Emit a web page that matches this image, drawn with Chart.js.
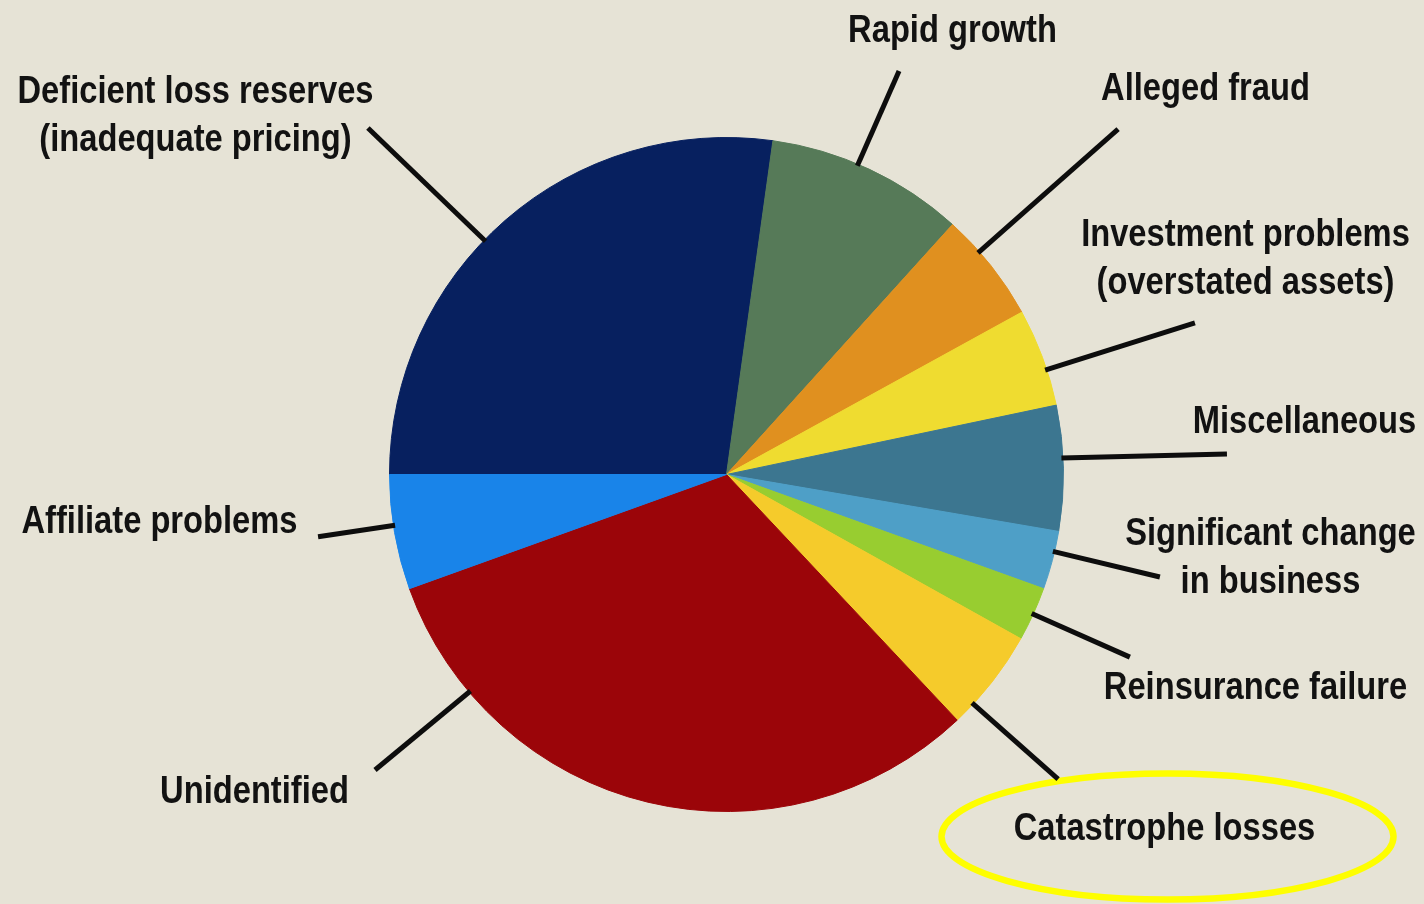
<!DOCTYPE html>
<html>
<head>
<meta charset="utf-8">
<title>Causes of insurer impairments</title>
<script src="https://cdn.jsdelivr.net/npm/chart.js@4.4.1/dist/chart.umd.min.js"></script>
<style>
  html, body { margin: 0; padding: 0; background: #e6e3d6; }
  #wrap { width: 1424px; height: 904px; }
</style>
</head>
<body>
<div id="wrap"><canvas id="pieChart" width="1424" height="904"></canvas></div>
<script>
// ─── DATA ────────────────────────────────────────────
const categories = [
  ['Deficient loss reserves', '(inadequate pricing)'],
  ['Rapid growth'],
  ['Alleged fraud'],
  ['Investment problems', '(overstated assets)'],
  ['Miscellaneous'],
  ['Significant change', 'in business'],
  ['Reinsurance failure'],
  ['Catastrophe losses'],
  ['Unidentified'],
  ['Affiliate problems']
];
const shares = [27.2, 9.5, 5.3, 4.7, 6.0, 2.8, 2.6, 4.9, 31.5, 5.5];
const sliceColors = [
  '#07205f', '#567a58', '#e0901f', '#efdc30', '#3c7690',
  '#4e9fc7', '#98cd30', '#f5cb2b', '#9b0509', '#1984e9'
];
const highlighted = 'Catastrophe losses';

// ─── CALLOUT LAYOUT ──────────────────────────────────
// at: where on the slice the leader starts (0..1 of its sweep)
// end: outer end of the leader, in radius units from the centre
// text: baseline centre of the first label line, px from the centre
const calloutLayout = [
  { at: 0.45, end: [-1.064, -1.028], text: [-531, -372] },
  { at: 0.44, end: [ 0.512, -1.197], text: [ 226, -433] },
  { at: 0.34, end: [ 1.162, -1.025], text: [ 479, -375] },
  { at: 0.63, end: [ 1.390, -0.450], text: [ 519, -229] },
  { at: 0.42, end: [ 1.485, -0.061], text: [ 578,  -42] },
  { at: 0.35, end: [ 1.286,  0.304], text: [ 544,   70] },
  { at: 0.50, end: [ 1.197,  0.542], text: [ 529,  224] },
  { at: 0.78, end: [ 0.984,  0.904], text: [ 438,  365] },
  { at: 0.82, end: [-1.043,  0.877], text: [-472,  328] },
  { at: 0.56, end: [-1.212,  0.185], text: [-567,   58] }
];

const LABEL_FONT = "bold 38px 'Liberation Sans', Arial, sans-serif";
const LABEL_SQUEEZE = 0.86;
const LINE_GAP = 48;

// ─── CALLOUT PLUGIN ──────────────────────────────────
const callouts = {
  id: 'callouts',
  afterDatasetsDraw(chart) {
    const { ctx } = chart;
    const arcs = chart.getDatasetMeta(0).data;
    const labels = chart.data.labels;

    ctx.save();
    arcs.forEach((arc, i) => {
      const lay = calloutLayout[i];
      const R = arc.outerRadius;
      const cx = arc.x, cy = arc.y;

      // ring round the highlighted label
      if (labels[i][0] === highlighted) {
        ctx.beginPath();
        ctx.ellipse(cx + lay.text[0] + 3, cy + lay.text[1] - 3, 226, 63, 0, 0, Math.PI * 2);
        ctx.strokeStyle = '#fefe00';
        ctx.lineWidth = 6.5;
        ctx.stroke();
      }

      // leader line
      const a = arc.startAngle + (arc.endAngle - arc.startAngle) * lay.at;
      ctx.beginPath();
      ctx.moveTo(cx + Math.cos(a) * R * 0.995, cy + Math.sin(a) * R * 0.995);
      ctx.lineTo(cx + lay.end[0] * R, cy + lay.end[1] * R);
      ctx.strokeStyle = '#0d0d0d';
      ctx.lineWidth = 5;
      ctx.lineCap = 'butt';
      ctx.stroke();

      // label text
      ctx.font = LABEL_FONT;
      ctx.fillStyle = '#121212';
      ctx.textAlign = 'center';
      ctx.textBaseline = 'alphabetic';
      labels[i].forEach((line, k) => {
        ctx.save();
        ctx.translate(cx + lay.text[0], cy + lay.text[1] + k * LINE_GAP);
        ctx.scale(LABEL_SQUEEZE, 1);
        ctx.fillText(line, 0, 0);
        ctx.restore();
      });
    });
    ctx.restore();
  }
};

// ─── PIE CHART ───────────────────────────────────────
new Chart(document.getElementById('pieChart'), {
  type: 'pie',
  data: {
    labels: categories,
    datasets: [{
      data: shares,
      backgroundColor: sliceColors,
      borderColor: sliceColors,
      borderWidth: 1
    }]
  },
  options: {
    responsive: false,
    animation: false,
    rotation: 270,
    layout: { padding: { left: 389, right: 360, top: 137, bottom: 92 } },
    plugins: {
      legend: { display: false },
      tooltip: { enabled: false }
    },
    events: []
  },
  plugins: [callouts]
});
</script>
</body>
</html>
